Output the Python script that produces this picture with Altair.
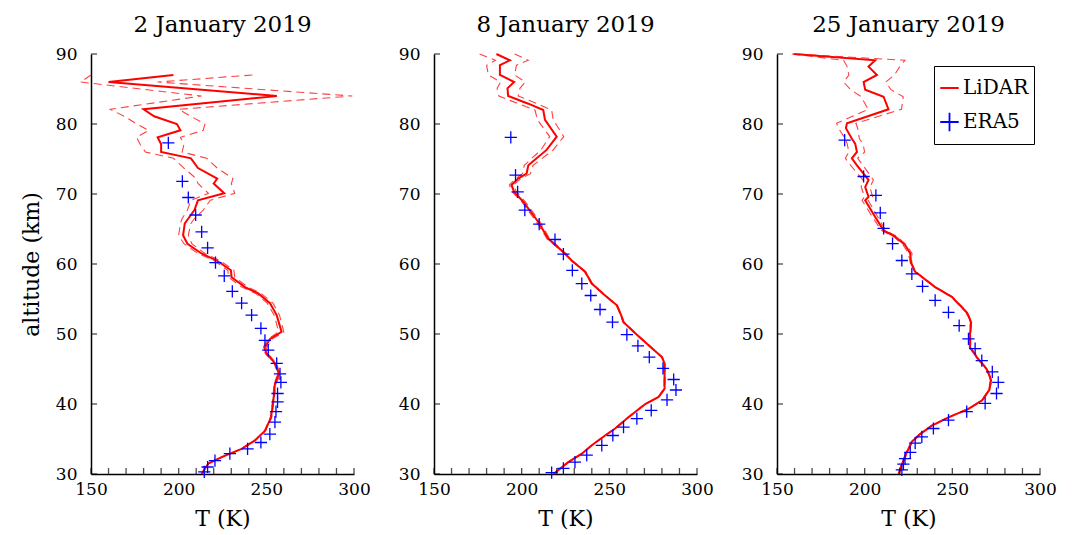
import altair as alt
import pandas as pd

FONT = "DejaVu Serif"
TITLES = ["2 January 2019", "8 January 2019", "25 January 2019"]
X_LABELS = [150, 200, 250, 300]
X_TICKS = list(range(150, 301, 10))
Y_TICKS = [30, 40, 50, 60, 70, 80, 90]
SERIES = ["LiDAR", "ERA5"]

# ---------- Panel 1: 2 January 2019 ----------
LID_ALT1 = [87.0, 86.0, 84.0, 82.1, 81.1, 80.0, 79.1, 78.1, 77.1, 76.0, 75.1, 73.7, 72.2, 71.5, 70.1,
            69.1, 67.7, 66.5, 65.8, 64.1, 62.9, 61.5, 60.5, 59.1, 58.1, 56.7, 55.8, 54.4, 52.7, 50.3,
            49.3, 48.0, 47.2, 45.8, 44.3, 42.9, 40.5, 38.1, 36.2, 34.8, 33.6, 32.4, 31.5, 30.0]
LID_T1 = [197.0, 160.0, 256.0, 180.0, 186.0, 199.0, 201.0, 188.0, 190.0, 190.0, 207.0, 211.0, 222.0, 220.0, 226.0,
          211.0, 209.0, 205.5, 203.5, 202.5, 205.0, 213.0, 221.7, 229.8, 230.2, 237.8, 245.4, 252.1, 255.9, 258.7,
          252.1, 248.9, 250.2, 255.0, 257.2, 254.9, 254.0, 252.7, 249.3, 243.5, 235.9, 224.5, 216.9, 213.1]
LID_LO1 = [150.0, 144.0, 213.0, 161.0, 169.0, 176.0, 183.0, 176.0, 178.0, 181.0, 197.0, 203.0, 210.0, 211.0, 217.0,
           207.0, 205.0, 202.0, 201.0, 200.0, 203.0, 211.0, 220.0, 228.0, 228.5, 236.0, 244.0, 250.5, 254.5, 257.0,
           251.0, 248.0, 249.5, 254.4, 256.6, 254.4, 253.6, 252.3, 249.0, 243.2, 235.6, 224.2, 216.6, 212.8]
LID_HI1 = [242.0, 188.0, 299.0, 200.0, 207.0, 215.0, 214.0, 201.0, 203.0, 202.0, 216.0, 222.0, 231.0, 230.0, 232.0,
           218.0, 214.0, 209.0, 207.0, 205.5, 207.5, 215.0, 223.5, 231.5, 232.0, 239.5, 247.0, 253.8, 257.5, 260.0,
           253.5, 250.0, 251.0, 255.7, 258.0, 255.5, 254.4, 253.1, 249.6, 243.8, 236.2, 224.8, 217.2, 213.4]
ERA_ALT1 = [77.3, 71.8, 69.5, 67.0, 64.6, 62.3, 60.2, 58.3, 56.1, 54.4, 52.7, 50.8, 49.1, 47.7, 45.8,
            44.3, 43.1, 41.5, 40.3, 38.9, 37.4, 35.7, 34.5, 33.6, 32.9, 31.9, 31.0, 30.3]
ERA_T1 = [194.1, 202.1, 205.5, 209.7, 213.1, 216.5, 221.0, 226.0, 230.6, 235.9, 241.6, 246.9, 249.2, 251.1, 255.9,
          257.8, 258.3, 256.4, 256.4, 255.5, 254.9, 252.0, 246.9, 239.3, 229.2, 220.7, 216.5, 214.6]

# ---------- Panel 2: 8 January 2019 ----------
LID_ALT2 = [90.0, 89.1, 88.4, 87.0, 86.0, 85.1, 84.0, 82.9, 82.0, 80.6, 78.2, 76.3, 74.1, 72.9, 72.2,
            71.3, 70.3, 68.9, 66.0, 63.6, 61.5, 60.5, 58.9, 57.2, 55.5, 54.1, 52.7, 51.7, 50.1, 48.4,
            46.7, 45.8, 42.2, 41.0, 40.0, 38.1, 36.5, 35.5, 34.1, 32.9, 31.7, 30.0]
LID_T2 = [185.6, 193.3, 187.6, 187.6, 195.7, 191.9, 192.3, 203.8, 212.3, 213.3, 220.0, 214.2, 203.8, 202.8, 198.0,
          194.2, 195.7, 200.9, 209.5, 215.2, 224.7, 228.5, 236.2, 240.0, 247.6, 254.3, 256.7, 258.1, 264.8, 272.4,
          280.0, 281.5, 281.5, 278.1, 270.5, 260.9, 253.3, 247.6, 240.0, 234.3, 226.6, 218.1]
LID_LO2 = [176.0, 185.0, 180.0, 181.0, 188.0, 186.0, 187.0, 198.0, 207.6, 209.0, 216.0, 211.0, 201.5, 200.5, 196.5,
           193.0, 194.5, 200.0, 208.5, 214.5, 224.3, 228.2, 235.9, 239.7, 247.3, 254.0, 256.4, 257.8, 264.5, 272.1,
           279.7, 281.2, 281.2, 277.8, 270.2, 260.6, 253.0, 247.3, 239.7, 234.0, 226.3, 217.8]
LID_HI2 = [196.0, 203.8, 197.0, 196.0, 202.0, 199.0, 198.0, 209.0, 217.1, 218.0, 224.0, 218.0, 206.5, 205.0, 199.5,
           195.5, 197.0, 202.0, 210.5, 216.0, 225.1, 228.8, 236.5, 240.3, 247.9, 254.6, 257.0, 258.4, 265.1, 272.7,
           280.3, 281.8, 281.8, 278.4, 270.8, 261.2, 253.6, 247.9, 240.3, 234.6, 226.9, 218.4]
ERA_ALT2 = [78.1, 72.7, 70.3, 67.7, 65.7, 63.5, 61.4, 59.1, 57.2, 55.5, 53.5, 51.7, 49.9, 48.3, 46.7,
            45.1, 43.5, 42.0, 40.6, 39.1, 37.9, 36.7, 35.5, 34.1, 32.7, 31.7, 30.8, 30.2]
ERA_T2 = [193.8, 196.5, 197.7, 201.8, 210.0, 219.0, 223.8, 228.9, 234.3, 239.4, 244.7, 251.8, 260.0, 266.3, 272.8,
          280.6, 286.7, 288.0, 282.9, 273.9, 265.7, 258.1, 252.0, 245.7, 237.1, 230.4, 223.8, 217.1]

# ---------- Panel 3: 25 January 2019 ----------
LID_ALT3 = [90.0, 89.1, 88.2, 87.0, 86.0, 84.9, 83.9, 82.1, 80.1, 79.4, 77.9, 77.2, 76.0, 75.1, 74.1,
            72.0, 71.0, 69.6, 69.1, 66.7, 64.8, 63.9, 62.7, 61.5, 60.1, 58.9, 56.7, 55.3, 53.1, 51.7,
            50.0, 48.1, 46.7, 45.0, 43.4, 41.9, 40.5, 39.3, 38.1, 36.9, 35.7, 34.6, 33.1, 31.9, 30.7, 30.0]
LID_T3 = [159.5, 206.0, 202.2, 207.0, 199.4, 200.3, 210.8, 213.6, 189.9, 189.3, 192.7, 194.6, 195.6, 192.7, 195.6,
          202.2, 200.3, 202.2, 200.3, 206.0, 210.8, 217.4, 223.1, 226.0, 226.5, 228.8, 240.2, 249.7, 258.2, 260.7,
          260.1, 260.1, 263.9, 269.6, 272.1, 270.9, 266.8, 259.2, 247.8, 238.3, 231.6, 226.9, 224.0, 222.1, 220.3, 219.3]
LID_LO3 = [158.5, 188.0, 190.0, 191.0, 188.0, 192.0, 198.0, 202.0, 184.0, 185.0, 189.0, 190.0, 191.0, 189.0, 192.0,
           199.0, 198.0, 200.0, 198.5, 204.5, 209.5, 216.5, 222.0, 225.0, 226.1, 228.4, 239.8, 249.3, 257.8, 260.3,
           259.7, 259.7, 263.5, 269.2, 271.7, 270.5, 266.4, 258.8, 247.4, 237.9, 231.2, 226.5, 223.6, 221.7, 219.9, 218.9]
LID_HI3 = [161.0, 223.0, 220.0, 217.0, 212.0, 215.0, 222.0, 221.0, 195.0, 196.0, 197.0, 199.0, 200.0, 196.0, 199.0,
           205.0, 203.0, 204.5, 202.0, 207.5, 212.0, 218.5, 224.0, 227.0, 226.9, 229.2, 240.6, 250.1, 258.6, 261.1,
           260.5, 260.5, 264.3, 270.0, 272.5, 271.3, 267.2, 259.6, 248.2, 238.7, 232.0, 227.3, 224.4, 222.5, 220.7, 219.7]
ERA_ALT3 = [77.7, 72.5, 69.8, 67.3, 65.1, 62.9, 60.5, 58.6, 56.8, 54.8, 53.1, 51.2, 49.3, 47.9, 46.2,
            44.6, 43.1, 41.5, 40.1, 38.9, 37.7, 36.5, 35.3, 34.4, 33.1, 32.2, 31.4, 30.6]
ERA_T3 = [188.6, 199.4, 206.4, 208.9, 210.8, 215.9, 221.2, 226.9, 233.0, 240.2, 247.8, 253.9, 259.2, 263.0, 266.8,
          272.8, 276.2, 275.2, 268.7, 258.2, 247.8, 239.2, 232.6, 228.8, 226.0, 223.0, 222.1, 221.2]

LID_ALT = [LID_ALT1, LID_ALT2, LID_ALT3]
LID_T = [LID_T1, LID_T2, LID_T3]
LID_LO = [LID_LO1, LID_LO2, LID_LO3]
LID_HI = [LID_HI1, LID_HI2, LID_HI3]
ERA_ALT = [ERA_ALT1, ERA_ALT2, ERA_ALT3]
ERA_T = [ERA_T1, ERA_T2, ERA_T3]

W, H = 263, 420
RED = "#ff0000"
BLUE = "#0000ff"
PLUS = "M-1,0L1,0M0,-1L0,1"


def xenc():
    return alt.X("T:Q", scale=alt.Scale(domain=[150, 300], nice=False, zero=False),
                 axis=alt.Axis(values=X_LABELS, title="T (K)", labelPadding=7, titlePadding=11,
                               labelFlush=False))


def yenc(k):
    return alt.Y("alt:Q", scale=alt.Scale(domain=[30, 90], nice=False, zero=False),
                 axis=alt.Axis(values=Y_TICKS, title="altitude (km)" if k == 0 else None,
                               labelPadding=14, titlePadding=12, labelFlush=False))


def panel(k):
    n = len(LID_ALT[k])
    lid = pd.DataFrame({"alt": LID_ALT[k], "T": LID_T[k], "i": list(range(n))})
    dash = pd.concat([
        pd.DataFrame({"alt": LID_ALT[k], "T": LID_LO[k], "bound": "lo", "i": list(range(n))}),
        pd.DataFrame({"alt": LID_ALT[k], "T": LID_HI[k], "bound": "hi", "i": list(range(n))}),
    ])
    era = pd.DataFrame({"alt": ERA_ALT[k], "T": ERA_T[k], "series": "ERA5"})
    xt = pd.DataFrame({"T": X_TICKS})
    yt = pd.DataFrame({"alt": Y_TICKS})

    dash_layer = alt.Chart(dash).mark_line(color=RED, strokeWidth=1.1, strokeDash=[8, 5], opacity=0.75).encode(
        x=xenc(), y=yenc(k), detail="bound:N", order="i:Q")
    line_layer = alt.Chart(lid).mark_line(color=RED, strokeWidth=2).encode(
        x=xenc(), y=yenc(k), order="i:Q")
    if k == 2:
        leg = alt.Legend(title=None, orient="none", legendX=843, legendY=12,
                         labelFont=FONT, labelFontSize=20, labelColor="black",
                         symbolSize=340, symbolStrokeWidth=1.8,
                         strokeColor="black", fillColor="white", padding=5,
                         rowPadding=0, clipHeight=34, labelOffset=3, cornerRadius=0)
        era_layer = alt.Chart(era).mark_point(filled=False, size=150, strokeWidth=1.3, opacity=1).encode(
            x=xenc(), y=yenc(k),
            color=alt.Color("series:N", scale=alt.Scale(domain=SERIES, range=[RED, BLUE]), legend=leg),
            shape=alt.Shape("series:N", scale=alt.Scale(domain=SERIES, range=["stroke", PLUS]), legend=leg))
    else:
        era_layer = alt.Chart(era).mark_point(filled=False, size=150, strokeWidth=1.3, opacity=1,
                                              color=BLUE, shape=PLUS).encode(x=xenc(), y=yenc(k))
    xtick_layer = alt.Chart(xt).mark_tick(orient="vertical", size=6, thickness=1.3, yOffset=-3,
                                          color="black").encode(x=xenc(), y=alt.value(H))
    ytick_layer = alt.Chart(yt).mark_tick(orient="horizontal", size=6, thickness=1.3, xOffset=3,
                                          color="black").encode(y=yenc(k), x=alt.value(0))
    return alt.layer(dash_layer, line_layer, era_layer, xtick_layer, ytick_layer).properties(
        width=W, height=H, title=alt.Title(TITLES[k]))


chart = alt.hconcat(panel(0), panel(1), panel(2), spacing=80, bounds="flush").properties(
    padding={"left": 12, "top": 6, "right": 5, "bottom": 5}
).configure_view(stroke=None).configure_axis(
    domainColor="black", domainWidth=1.5, ticks=False, grid=False,
    labelFont=FONT, labelFontSize=17, labelColor="black",
    titleFont=FONT, titleFontSize=22, titleFontWeight="normal", titleColor="black"
).configure_title(
    font=FONT, fontSize=23, fontWeight="normal", color="black", offset=8, anchor="middle"
)

chart.save("out.html", embed_options={"renderer": "svg", "actions": False})
